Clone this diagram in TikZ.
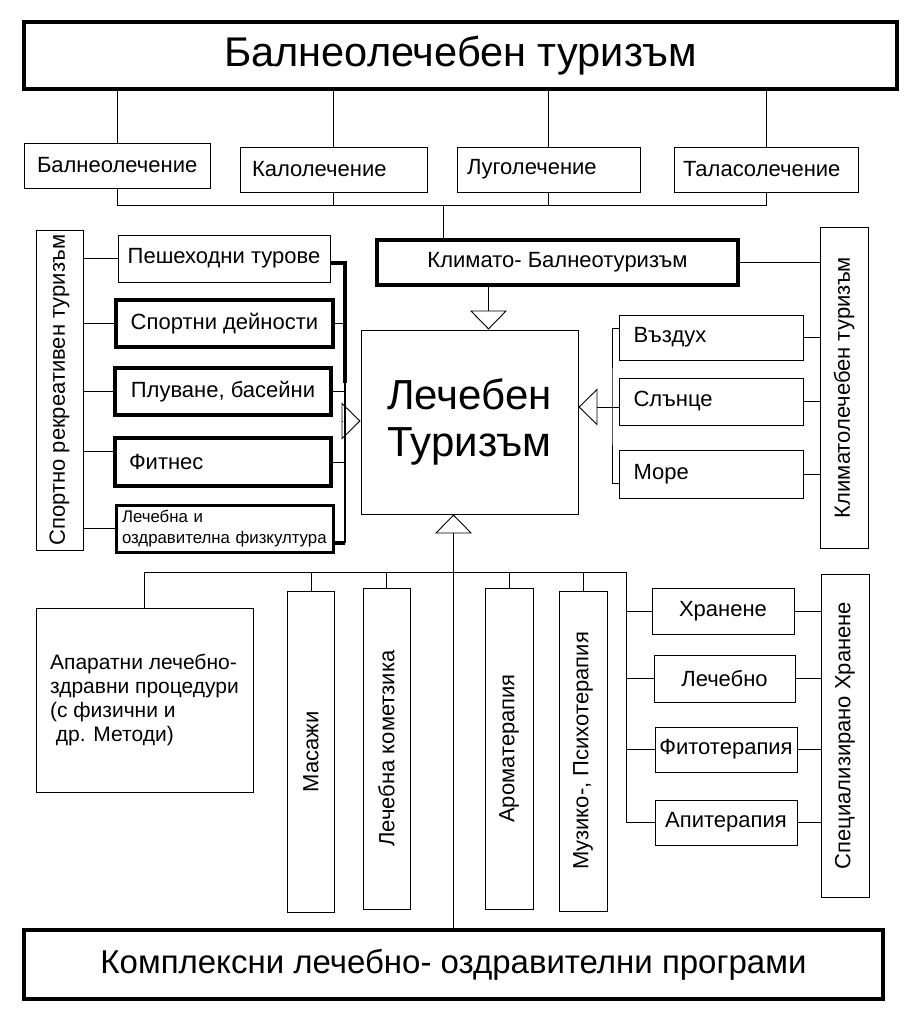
\documentclass[tikz,border=0pt]{standalone}
\usepackage{fontspec}
\setmainfont{Liberation Sans}
\usetikzlibrary{positioning}
\usetikzlibrary{arrows.meta}
\tikzset{
    boxn/.style = {rectangle, draw=black, line width=0.9pt, inner sep=0pt, align=center, font=\fontsize{22}{25}\selectfont, text=black},
    boxt/.style = {boxn, line width=3.5pt},
    boxk/.style = {boxn, line width=4.5pt},
    boxv/.style = {boxn, rotate=90},
    edgen/.style = {-, line width=0.9pt, black},
    edgeb/.style = {-, line width=3.5pt, black},
    hollow/.style = {-{Triangle[open, length=19pt, width=37pt]}, line width=0.9pt, black}
}

\begin{document}
\begin{tikzpicture}[x=1pt, y=-1pt]
  \useasboundingbox (0,0) rectangle (913,1017);

  % top level
  \node[boxt, minimum width=873pt, minimum height=67pt, font=\fontsize{41.5}{48}\selectfont] (balneo) at (460.5,55.5) {Балнеолечебен туризъм};
  \node[boxn, inner xsep=13pt, text width=160pt, align=left, minimum height=45pt] (bal) at (117,165.5) {Балнеолечение};
  \node[boxn, inner xsep=12pt, text width=163pt, align=left, minimum height=45pt] (kal) at (333.5,169.5) {Калолечение};
  \node[boxn, inner xsep=10pt, text width=163pt, align=left, minimum height=45pt] (lug) at (548.5,169.5) {Луголечение};
  \node[boxn, inner xsep=9pt, text width=166pt, align=left, minimum height=45pt] (tal) at (766,169.5) {Таласолечение};
  \coordinate (tbus) at (443,205);

  % centre
  \node[boxk, minimum width=361pt, minimum height=45pt] (klimato) at (557.5,262.5) {Климато- Балнеотуризъм};
  \node[boxn, minimum width=217pt, minimum height=184pt, font=\fontsize{42}{47}\selectfont] (lech) at (469.5,422) {Лечебен\\Туризъм};

  % right: climate
  \node[boxn, inner xsep=14pt, text width=156pt, align=left, minimum height=45pt] (vaz) at (711.5,337.5) {Въздух};
  \node[boxn, inner xsep=14pt, text width=156pt, align=left, minimum height=47pt] (sl) at (711.5,401.5) {Слънце};
  \node[boxn, inner xsep=14pt, text width=156pt, align=left, minimum height=48pt] (more) at (711.5,474) {Море};
  \node[boxv, minimum width=321pt, minimum height=48pt] (klim) at (844,387.5) {Климатолечебен туризъм};
  \coordinate (rbar) at (612,407);

  % left: sport
  \node[boxv, minimum width=320pt, minimum height=47pt] (sprt) at (59.5,390) {Спортно рекреативен туризъм};
  \node[boxn, minimum width=212pt, minimum height=47pt] (peshe) at (224,258.5) {Пешеходни турове};
  \node[boxt, minimum width=217pt, minimum height=47pt] (sport) at (224.5,323.5) {Спортни дейности};
  \node[boxt, minimum width=216pt, minimum height=47pt] (pluv) at (223,391.5) {Плуване, басейни};
  \node[boxt, inner xsep=14pt, text width=188pt, align=left, minimum height=48pt] (fit) at (223,462) {Фитнес};
  \node[boxt, line width=3pt, inner xsep=6pt, text width=205pt, align=left, minimum height=47pt, font=\fontsize{16.8}{21}\selectfont] (fiz) at (224.5,528.5) {Лечебна и\\оздравителна физкултура};
  \coordinate (sbar) at (345,421);

  % bottom
  \node[boxn, minimum width=217pt, minimum height=184pt, align=left, font=\fontsize{21}{24}\selectfont] (apar) at (144.5,700) {Апаратни лечебно-\\здравни процедури\\(с физични и\\\ др. Методи)};
  \node[boxv, minimum width=321pt, minimum height=47pt] (masaj) at (311,752) {Масажи};
  \node[boxv, minimum width=321pt, minimum height=47pt] (lkoz) at (386.5,748.5) {Лечебна кометзика};
  \node[boxv, minimum width=321pt, minimum height=48pt] (arom) at (509,748.5) {Ароматерапия};
  \node[boxv, minimum width=320pt, minimum height=48pt] (muz) at (583,751) {Музико-, Психотерапия};
  \node[boxn, minimum width=142pt, minimum height=46pt] (hran) at (723,611) {Хранене};
  \node[boxn, minimum width=141pt, minimum height=47pt] (lechb) at (724.5,678.5) {Лечебно};
  \node[boxn, minimum width=142pt, minimum height=45pt] (fito) at (726,749.5) {Фитотерапия};
  \node[boxn, minimum width=142pt, minimum height=45pt] (apit) at (726,822.5) {Апитерапия};
  \node[boxv, minimum width=323pt, minimum height=48pt] (spec) at (845,735.5) {Специализирано Хранене};
  \node[boxt, minimum width=859pt, minimum height=69pt, font=\fontsize{33}{38}\selectfont] (kompl) at (453.5,964.5) {Комплексни лечебно- оздравителни програми};
  \coordinate (nbus) at (626,572);

  % top connectors
  \draw[edgen] (balneo.south -| bal.north) -- (bal.north);
  \draw[edgen] (balneo.south -| kal.north) -- (kal.north);
  \draw[edgen] (balneo.south -| lug.north) -- (lug.north);
  \draw[edgen] (balneo.south -| tal.north) -- (tal.north);
  \draw[edgen] (bal.south) |- (tal.south |- tbus) -- (tal.south);
  \draw[edgen] (kal.south) -- (kal.south |- tbus);
  \draw[edgen] (lug.south) -- (lug.south |- tbus);
  \draw[edgen] (tbus) -- (tbus |- klimato.north);
  \draw[edgen] (klimato.east) -- (klimato.east -| klim.north);
  \draw[hollow] ([xshift=-69pt]klimato.south) -- ([xshift=-69pt]klimato.south |- lech.north);

  % right connectors
  \draw[edgen] (vaz.east) -- (vaz.east -| klim.north);
  \draw[edgen] (sl.east) -- (sl.east -| klim.north);
  \draw[edgen] (more.east) -- (more.east -| klim.north);
  \draw[edgen] ([yshift=9.5pt]vaz.west) -| (rbar) |- ([yshift=-9pt]more.west);
  \draw[hollow] (sl.west |- rbar) -- (rbar -| lech.east);

  % left connectors
  \draw[edgen] (peshe.west) -- (peshe.west -| sprt.south);
  \draw[edgen] (sport.west) -- (sport.west -| sprt.south);
  \draw[edgen] (pluv.west) -- (pluv.west -| sprt.south);
  \draw[edgen] ([yshift=11pt]fit.west) -- ([yshift=11pt]fit.west -| sprt.south);
  \draw[edgen] (fiz.west) -- (fiz.west -| sprt.south);
  \draw[edgeb] ([yshift=-4.5pt]peshe.east) -| ([yshift=38pt]sbar);
  \draw[edgen, line width=1.6pt] ([yshift=38pt]sbar) -- ([yshift=-14.5pt]fiz.east -| sbar);
  \draw[edgeb] ([yshift=-14.5pt]fiz.east -| sbar) -- ([yshift=-14.5pt]fiz.east);
  \draw[edgen] (sport.east) -- (sport.east -| sbar);
  \draw[edgen] (pluv.east) -- (pluv.east -| sbar);
  \draw[edgen] (fit.east) -- (fit.east -| sbar);
  \draw[hollow, line width=0.9pt] ([xshift=-3pt]sbar) -- (sbar -| lech.west);

  % bottom connectors
  \draw[hollow] (kompl.north) -- (kompl.north |- lech.south);
  \draw[edgen] (apar.north) |- (nbus) |- (apit.west);
  \draw[edgen] (masaj.east) -- (masaj.east |- nbus);
  \draw[edgen] (lkoz.east) -- (lkoz.east |- nbus);
  \draw[edgen] (arom.east) -- (arom.east |- nbus);
  \draw[edgen] (muz.east) -- (muz.east |- nbus);
  \draw[edgen] (hran.west) -- (hran.west -| nbus);
  \draw[edgen] (lechb.west) -- (lechb.west -| nbus);
  \draw[edgen] (fito.west) -- (fito.west -| nbus);
  \draw[edgen] (hran.east) -- (hran.east -| spec.north);
  \draw[edgen] (lechb.east) -- (lechb.east -| spec.north);
  \draw[edgen] (fito.east) -- (fito.east -| spec.north);
  \draw[edgen] (apit.east) -- (apit.east -| spec.north);
\end{tikzpicture}
\end{document}
